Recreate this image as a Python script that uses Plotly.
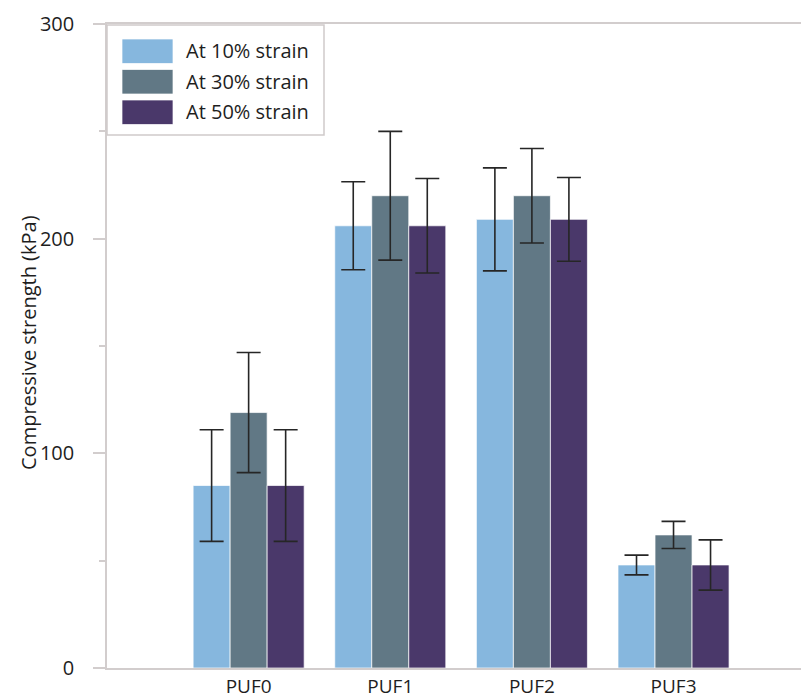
import plotly.graph_objects as go

# Sample groups and measured compressive strength (kPa) at three strain levels
samples = ["PUF0", "PUF1", "PUF2", "PUF3"]
series_names = ["At 10% strain", "At 30% strain", "At 50% strain"]

strength_10 = [85, 206, 209, 48]
strength_30 = [119, 220, 220, 62]
strength_50 = [85, 206, 209, 48]

err_10 = [26, 20.5, 24, 4.6]
err_30 = [28, 30, 22, 6.3]
err_50 = [26, 22, 19.5, 11.7]

y_ticks = [0, 100, 200, 300]

colors = ["#86b7de", "#617885", "#4a386a"]
axis_color = "#d2cdcd"
text_color = "#1e1e1e"
font_family = "Open Sans, Noto Sans, sans-serif"
font_size = 20

fig = go.Figure()
x_pos = list(range(len(samples)))
for name, vals, errs, col in zip(series_names,
                                 [strength_10, strength_30, strength_50],
                                 [err_10, err_30, err_50], colors):
    fig.add_trace(go.Bar(
        x=x_pos, y=vals, name=name,
        marker=dict(color=col, line=dict(color="rgba(255,255,255,0.7)", width=1)),
        error_y=dict(type="data", array=errs, visible=True,
                     color="#262626", thickness=1.6, width=12),
        showlegend=False,
    ))

# Boxed legend with large colour swatches, placed in the top-left corner
px_w, px_h = 694, 644
def px_x(p):
    return (p - 107) / px_w
def px_y(p):
    return (668 - p) / px_h

shapes = [dict(type="rect", xref="paper", yref="paper",
               x0=px_x(107), x1=px_x(324), y0=px_y(135), y1=px_y(25),
               line=dict(color="#cfcaca", width=1.5), fillcolor="white", layer="above")]
annotations = []
row_top = [39, 69.5, 100]
for name, col, top in zip(series_names, colors, row_top):
    shapes.append(dict(type="rect", xref="paper", yref="paper",
                       x0=px_x(122), x1=px_x(173), y0=px_y(top + 24.5), y1=px_y(top),
                       line=dict(color="rgba(255,255,255,0.7)", width=1),
                       fillcolor=col, layer="above"))
    annotations.append(dict(xref="paper", yref="paper", x=px_x(184), y=px_y(top + 11.5),
                            text=name, showarrow=False, xanchor="left", yanchor="middle",
                            font=dict(size=font_size, color=text_color, family=font_family)))

annotations.append(dict(xref="paper", yref="paper", x=px_x(28), y=px_y(343),
                        text="Compressive strength (kPa)", textangle=-90, showarrow=False,
                        xanchor="center", yanchor="middle",
                        font=dict(size=font_size, color=text_color, family=font_family)))

fig.update_layout(
    width=801, height=698,
    margin=dict(l=107, r=0, t=24, b=30, autoexpand=False),
    paper_bgcolor="white", plot_bgcolor="white",
    barmode="group", bargap=0.216, bargroupgap=0,
    font=dict(family=font_family, size=font_size, color=text_color),
    shapes=shapes, annotations=annotations,
    xaxis=dict(
        range=[-1, 3.9], tickvals=x_pos, ticktext=samples, automargin=False,
        showline=True, mirror=True, linecolor=axis_color, linewidth=1.5,
        ticks="", showgrid=False, zeroline=False, layer="below traces",
        tickfont=dict(size=19, color=text_color), ticklabelstandoff=0,
    ),
    yaxis=dict(
        range=[0, 300], tickvals=y_ticks, ticktext=[str(v) for v in y_ticks],
        automargin=False,
        showline=True, linecolor=axis_color, linewidth=1.5,
        ticks="outside", ticklen=12, tickwidth=1.5, tickcolor=axis_color,
        minor=dict(dtick=50, ticks="outside", ticklen=6, tickwidth=1.5,
                   tickcolor=axis_color, showgrid=False),
        showgrid=False, zeroline=False, layer="below traces",
        tickfont=dict(size=font_size, color=text_color), ticklabelstandoff=15,
    ),
)

fig.write_html("out.html")
